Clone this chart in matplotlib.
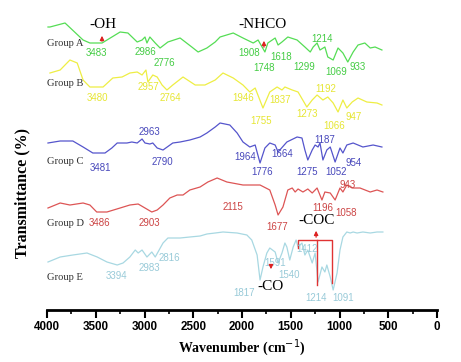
#FTIR spectra of groups A-E, stacked
import numpy as np
import matplotlib
matplotlib.use('Agg')
from matplotlib import pyplot as plt

# wavenumber (cm-1) and transmittance (arbitrary, stacked) for each group
wave_a = [3990, 3970, 3815, 3630, 3560, 3435, 3250, 3170, 3075, 3025, 2995, 2975, 2945, 2890, 2840,
          2760, 2635, 2515, 2450, 2360, 2275, 2225, 2090, 1990, 1885, 1835, 1765, 1735, 1660, 1630,
          1590, 1530, 1435, 1355, 1300, 1270, 1230, 1200, 1150, 1120, 1065, 1015, 965, 915, 860,
          810, 740, 685, 635, 565]
trans_a = [283, 283, 287, 270, 267, 267, 278, 277, 268, 270, 273, 267, 273, 267, 262,
           268, 272, 263, 258, 262, 268, 273, 277, 272, 267, 270, 258, 267, 272, 265,
           268, 273, 270, 263, 258, 263, 267, 260, 263, 253, 250, 262, 257, 248, 258,
           265, 267, 262, 263, 260]

wave_b = [3970, 3865, 3765, 3690, 3630, 3560, 3425, 3325, 3230, 3150, 3075, 3025, 2985, 2965, 2915,
          2870, 2820, 2770, 2710, 2605, 2480, 2380, 2275, 2195, 2090, 1990, 1920, 1865, 1785, 1715,
          1640, 1590, 1560, 1485, 1425, 1335, 1280, 1230, 1170, 1120, 1065, 1015, 965, 925, 870,
          810, 720, 615, 565]
trans_b = [237, 240, 250, 247, 230, 223, 223, 232, 233, 237, 238, 235, 240, 228, 235,
           233, 225, 220, 225, 233, 225, 225, 230, 237, 232, 225, 218, 222, 202, 218,
           223, 220, 223, 220, 218, 203, 210, 215, 210, 213, 207, 198, 210, 202, 208,
           212, 208, 207, 205]

wave_c = [3990, 3865, 3735, 3630, 3530, 3405, 3335, 3280, 3180, 3130, 3075, 3025, 2995, 2945, 2915,
          2870, 2810, 2710, 2635, 2535, 2430, 2360, 2275, 2225, 2125, 2050, 1990, 1920, 1865, 1815,
          1765, 1715, 1660, 1630, 1540, 1435, 1385, 1355, 1325, 1280, 1250, 1220, 1200, 1170, 1130,
          1095, 1045, 995, 965, 925, 860, 760, 655, 565]
trans_c = [167, 169, 169, 163, 157, 157, 162, 167, 167, 168, 167, 171, 167, 166, 167,
           162, 160, 167, 168, 170, 173, 177, 183, 187, 185, 177, 168, 163, 165, 147,
           162, 167, 165, 158, 168, 173, 172, 160, 150, 160, 165, 163, 167, 150, 160,
           163, 148, 162, 157, 165, 167, 163, 165, 163]

wave_d = [3990, 3865, 3765, 3630, 3560, 3490, 3385, 3250, 3150, 3065, 2995, 2925, 2870, 2810, 2740,
          2665, 2605, 2535, 2430, 2350, 2255, 2155, 1990, 1815, 1715, 1660, 1630, 1580, 1530, 1485,
          1455, 1425, 1375, 1325, 1280, 1230, 1180, 1150, 1095, 1045, 995, 965, 925, 870, 790,
          685, 615, 555]
trans_d = [102, 107, 105, 107, 105, 98, 98, 102, 105, 106, 102, 98, 100, 105, 112,
           115, 115, 120, 123, 128, 132, 128, 125, 125, 120, 105, 95, 103, 120, 122,
           118, 121, 118, 121, 117, 122, 110, 118, 117, 110, 122, 118, 125, 122, 122,
           118, 120, 118]

wave_e = [3990, 3865, 3735, 3590, 3485, 3385, 3280, 3220, 3150, 3095, 3065, 3025, 2975, 2925, 2890,
          2850, 2810, 2760, 2635, 2535, 2430, 2360, 2275, 2195, 2050, 1950, 1900, 1845, 1815, 1785,
          1745, 1715, 1660, 1630, 1590, 1560, 1540, 1510, 1475, 1445, 1425, 1385, 1355, 1325, 1280,
          1250, 1220, 1180, 1150, 1130, 1095, 1065, 1025, 995, 965, 925, 890, 860, 820, 760,
          685, 615, 555]
trans_e = [48, 53, 55, 57, 53, 48, 45, 47, 53, 60, 57, 60, 53, 58, 53,
           60, 67, 72, 72, 73, 74, 76, 77, 78, 77, 75, 70, 55, 30, 43,
           57, 62, 58, 47, 57, 67, 63, 50, 63, 70, 63, 67, 55, 60, 47,
           57, 28, 43, 38, 45, 33, 20, 37, 60, 73, 78, 77, 78, 77, 78,
           77, 78, 78]

groups = ['Group A', 'Group B', 'Group C', 'Group D', 'Group E']
group_y = [267, 227, 148, 87, 32]
colors = ['#55dd55', '#eeee44', '#5555cc', '#dd5555', '#a8d8e2']
label_colors = ['#44cc44', '#e6e633', '#4848bb', '#cc4444', '#98cad8']

# peak labels: (text, wavenumber position, transmittance position)
peaks_a = [('3483', 3495, 257), ('2986', 2995, 258), ('2776', 2800, 247), ('1908', 1930, 257),
           ('1748', 1775, 242), ('1618', 1600, 253), ('1299', 1365, 243), ('1214', 1180, 271),
           ('1069', 1035, 238), ('933', 810, 243)]
peaks_b = [('3480', 3485, 212), ('2957', 2965, 223), ('2764', 2730, 212), ('1946', 1990, 212),
           ('1837', 1610, 210), ('1755', 1805, 189), ('1273', 1335, 196), ('1192', 1140, 221),
           ('1066', 1055, 184), ('947', 860, 193)]
peaks_c = [('2963', 2945, 178), ('3481', 3455, 142), ('2790', 2820, 148), ('1964', 1970, 153),
           ('1776', 1795, 138), ('1664', 1590, 156), ('1275', 1335, 138), ('1052', 1035, 138),
           ('1187', 1150, 170), ('954', 860, 147)]
peaks_d = [('3486', 3460, 87), ('2903', 2945, 87), ('2115', 2090, 103), ('1677', 1640, 83),
           ('1196', 1170, 102), ('1058', 935, 97), ('943', 915, 125)]
peaks_e = [('3394', 3290, 34), ('2983', 2945, 42), ('2816', 2740, 52), ('1817', 1980, 17),
           ('1591', 1660, 47), ('1540', 1520, 35), ('1412', 1335, 61), ('1214', 1240, 12),
           ('1091', 965, 12)]

waves = [wave_a, wave_b, wave_c, wave_d, wave_e]
trans = [trans_a, trans_b, trans_c, trans_d, trans_e]
peaks = [peaks_a, peaks_b, peaks_c, peaks_d, peaks_e]

fig = plt.figure(figsize=(4.61, 3.62), dpi=100)
ax = fig.add_axes([47/461, 52/362, 390/461, 300/362])

for w, t, c in zip(waves, trans, colors):
    ax.plot(w, t, color=c, lw=0.9, solid_joinstyle='round')

for name, gy in zip(groups, group_y):
    ax.text(3995, gy, name, family='Liberation Serif', fontsize=7.6, color='#333333',
            ha='left', va='center')

for pk, c in zip(peaks, label_colors):
    for txt, px, py in pk:
        ax.text(px, py, txt, family='Liberation Sans', fontsize=7, color=c,
                ha='center', va='center')

# functional group markers
ax.annotate('', xy=(3436, 277), xytext=(3436, 266),
            arrowprops=dict(arrowstyle='-|>', color='#dd2222', lw=0.9, mutation_scale=6))
ax.text(3425, 285, '-OH', family='Liberation Serif', fontsize=11, ha='center', va='center')
ax.annotate('', xy=(1775, 272), xytext=(1775, 260),
            arrowprops=dict(arrowstyle='-|>', color='#dd2222', lw=0.9, mutation_scale=6))
ax.text(1785, 285, '-NHCO', family='Liberation Serif', fontsize=11, ha='center', va='center')
ax.annotate('', xy=(1703, 38), xytext=(1703, 47),
            arrowprops=dict(arrowstyle='-|>', color='#dd2222', lw=0.9, mutation_scale=6))
ax.text(1705, 23, '-CO', family='Liberation Serif', fontsize=11, ha='center', va='center')
ax.plot([1425, 1425, 1080, 1080], [62, 70, 70, 27], color='#e03333', lw=1)
ax.plot([1230, 1230], [70, 25], color='#e03333', lw=1)
ax.annotate('', xy=(1240, 82), xytext=(1240, 70),
            arrowprops=dict(arrowstyle='-|>', color='#dd2222', lw=0.9, mutation_scale=6))
ax.text(1240, 90, '-COC', family='Liberation Serif', fontsize=11, ha='center', va='center')

ax.set_xlim(4000, 0)
ax.set_ylim(0, 300)
ax.set_xticks(np.arange(0, 4001, 500))
ax.set_xticks(np.arange(250, 4000, 500), minor=True)
for lab in ax.get_xticklabels():
    lab.set_family('Liberation Sans')
    lab.set_fontweight('bold')
ax.tick_params(axis='x', which='major', length=6, width=1.5, labelsize=8.4, pad=2)
ax.tick_params(axis='x', which='minor', length=3, width=1.2)
ax.set_yticks([])
for s in ['top', 'right', 'left']:
    ax.spines[s].set_visible(False)
ax.spines['bottom'].set_linewidth(2)

ax.set_xlabel('Wavenumber (cm$^{-1}$)', family='Liberation Serif', fontweight='bold',
              fontsize=10, labelpad=3)
fig.text(22/461, 1 - 193/362, 'Transmittance (%)', family='Liberation Serif', fontweight='bold',
         fontsize=11.5, rotation=90, ha='center', va='center')

plt.savefig('out.png', dpi=100)
